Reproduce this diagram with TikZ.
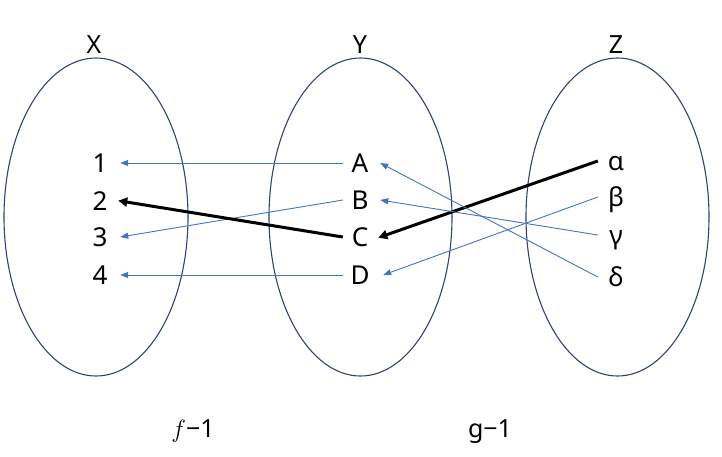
\documentclass[tikz,border=0pt]{standalone}
\usepackage{fontspec}
\setmainfont{Noto Sans}
\usetikzlibrary{arrows.meta}
\definecolor{arrblue}{HTML}{4472C4}
\definecolor{setline}{HTML}{2F4470}
\tikzset{
  setellipse/.style={draw=setline, line width=1.1pt},
  elem/.style={inner sep=0pt, text height=18pt, text depth=0pt, font=\fontsize{26}{30}\selectfont},
  leftel/.style={elem, minimum width=40pt},
  midel/.style={elem, minimum width=40pt},
  rightel/.style={elem, minimum width=36pt},
  title/.style={anchor=base, inner sep=0pt, font=\fontsize{25}{30}\selectfont},
  bluearr/.style={draw=arrblue, line width=0.9pt, -{Triangle[length=8pt,width=6pt]}},
  blackarr/.style={draw=black, line width=3pt, -{Triangle[length=9pt,width=9pt]}, shorten >=-2pt}
}
\begin{document}
\begin{tikzpicture}[x=1pt,y=-1pt]
\useasboundingbox (0,0) rectangle (722,456);
% sets
\draw[setellipse] (96,217) ellipse [x radius=92, y radius=159];
\draw[setellipse] (360.5,217) ellipse [x radius=91.5, y radius=159];
\draw[setellipse] (617.5,217) ellipse [x radius=91.5, y radius=159];
% titles
\node[title] (tX) at (94,53) {X};
\node[title] (tY) at (360,53) {Y};
\node[title] (tZ) at (616,53) {Z};
% elements of X
\node[leftel] (n1) at (100,163) {1};
\node[leftel] (n2) at (100,201) {2};
\node[leftel] (n3) at (100,237) {3};
\node[leftel] (n4) at (100,275) {4};
% elements of Y
\node[midel] (A) at (360,163) {A};
\node[midel] (B) at (360,200) {B};
\node[midel] (C) at (360,237) {C};
\node[midel] (D) at (360,275) {D};
% elements of Z
\node[rightel] (al) at (616,161) {α};
\node[rightel] (be) at (616,197) {β};
\node[rightel] (ga) at (616,235) {γ};
\node[rightel] (de) at (616,277) {δ};
% f^{-1}
\draw[bluearr] ([xshift=3pt]A.west) -- (n1.east);
\draw[bluearr] ([xshift=3pt]B.west) -- (n3.east);
\draw[blackarr] ([xshift=3pt]C.west) -- (n2.east);
\draw[bluearr] ([xshift=3pt]D.west) -- (n4.east);
% g^{-1}
\draw[blackarr] (al.west) -- (C.east);
\draw[bluearr] (be.west) -- ([xshift=3pt]D.east);
\draw[bluearr] (ga.west) -- (B.east);
\draw[bluearr] (de.west) -- (A.east);
% labels
\node[title] (lf) at (193,437) {$f$−1};
\node[title] (lg) at (490,437) {g−1};
\end{tikzpicture}
\end{document}
